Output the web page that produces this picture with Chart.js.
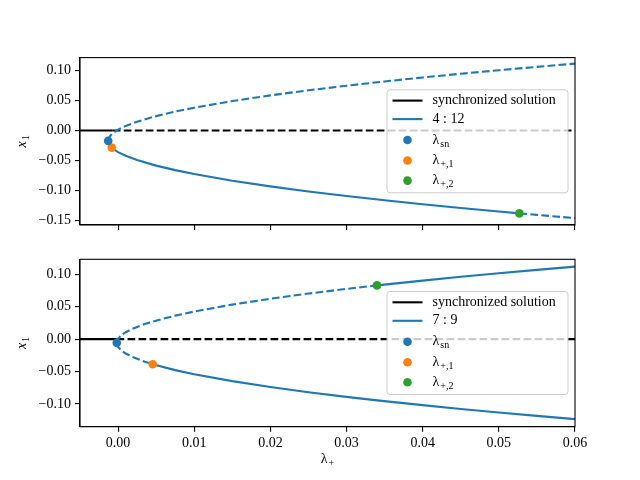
<!DOCTYPE html>
<html><head><meta charset="utf-8">
<script src="https://cdn.jsdelivr.net/npm/chart.js@4.4.0/dist/chart.umd.min.js"></script>
<style>
html,body{margin:0;padding:0;background:#fff;}
#wrap{position:relative;width:640px;height:480px;background:#fff;}
canvas{position:absolute;left:0;}
</style></head><body>
<div id="wrap">
<canvas id="c1" width="640" height="240" style="top:0"></canvas>
<canvas id="c2" width="640" height="240" style="top:240px"></canvas>
</div>
<script>
// ---- tick labels ----
const xTicks = [0, 0.01, 0.02, 0.03, 0.04, 0.05, 0.06];
const yTicksTop = [-0.15, -0.10, -0.05, 0, 0.05, 0.10];
const yTicksBottom = [-0.10, -0.05, 0, 0.05, 0.10];

// ---- top panel (4 : 12) ----
const topLambda = [-0.0013, -0.0011, -0.00083, -0.0005, 0, 0.001, 0.0025, 0.005, 0.0075, 0.01, 0.015, 0.02, 0.025, 0.03, 0.035, 0.04, 0.045, 0.05, 0.0527, 0.055, 0.06];
const topUpper  = [-0.0173, -0.0100, -0.0061, -0.0027, 0.0014, 0.0075, 0.0146, 0.0238, 0.0313, 0.0378, 0.0488, 0.0583, 0.0667, 0.0743, 0.0814, 0.0880, 0.0942, 0.1000, 0.1031, 0.1056, 0.1110];
const topLower  = [-0.0173, -0.0246, -0.0285, -0.0320, -0.0360, -0.0421, -0.0492, -0.0584, -0.0659, -0.0724, -0.0834, -0.0929, -0.1013, -0.1089, -0.1160, -0.1226, -0.1288, -0.1346, -0.1377, -0.1402, -0.1456];
const topSyncLambda = [-0.005, -0.0007, 0.06];
const topSyncValue = [0, 0, 0];
const topSn = [-0.0013, -0.0173];
const topPlus1 = [-0.00083, -0.0285];
const topPlus2 = [0.0527, -0.1377];

// ---- bottom panel (7 : 9) ----
const botLambda = [-0.00017, 0, 0.0005, 0.001, 0.002, 0.0035, 0.00455, 0.0075, 0.01, 0.015, 0.02, 0.025, 0.03, 0.034, 0.04, 0.045, 0.05, 0.055, 0.06];
const botUpper  = [-0.0058, 0.0005, 0.0066, 0.0106, 0.0165, 0.0232, 0.0271, 0.0362, 0.0425, 0.0532, 0.0622, 0.0702, 0.0774, 0.0828, 0.0902, 0.0960, 0.1015, 0.1067, 0.1117];
const botLower  = [-0.0058, -0.0121, -0.0182, -0.0222, -0.0281, -0.0348, -0.0387, -0.0478, -0.0541, -0.0648, -0.0738, -0.0818, -0.0890, -0.0944, -0.1018, -0.1076, -0.1131, -0.1183, -0.1233];
const botSyncLambda = [-0.005, -0.0002, 0.06];
const botSyncValue = [0, 0, 0];
const botSn = [-0.00017, -0.0058];
const botPlus1 = [0.00455, -0.0387];
const botPlus2 = [0.034, 0.0828];

const BLUE = '#1f77b4', ORANGE = '#ff7f0e', GREEN = '#2ca02c';
const DASH = [7.7, 3.3];
const LW = 2.1;
const FONT = '"Liberation Serif", "Times New Roman", serif';

function pts(l, v) { return l.map((x, i) => ({x: x, y: v[i]})); }
function lineDs(l, v, color, dashFn, order) {
  return {data: pts(l, v), showLine: true, borderColor: color, backgroundColor: color,
    borderWidth: LW, pointRadius: 0, tension: 0, fill: false, order: order,
    segment: {borderDash: dashFn}};
}
function markDs(p, color) {
  return {data: [{x: p[0], y: p[1]}], showLine: false, pointRadius: 4.3,
    pointBackgroundColor: color, pointBorderWidth: 0, borderWidth: 0, order: 0};
}
function fmt(v) {
  const s = Math.abs(v).toFixed(2);
  return (v < -1e-9 ? '\u2212' : '') + s;
}
function drawSub(ctx, x, y, main, sub, align, italicMain) {
  const mainFont = (italicMain ? 'italic ' : '') + '14px ' + FONT;
  const subFont = '10px ' + FONT;
  ctx.font = mainFont;
  const wm = ctx.measureText(main).width;
  ctx.font = subFont;
  const ws = ctx.measureText(sub).width;
  let x0 = x;
  if (align === 'center') x0 = x - (wm + ws + 1) / 2;
  ctx.textAlign = 'left';
  ctx.textBaseline = 'middle';
  ctx.font = mainFont;
  ctx.fillText(main, x0, y);
  ctx.font = subFont;
  ctx.fillText(sub, x0 + wm + 1, y + 4);
}

function framePlugin(o) {
  return {
    id: 'frame',
    afterDatasetsDraw(chart) {
      const ctx = chart.ctx, ca = chart.chartArea;
      ctx.save();
      // full axes box
      ctx.strokeStyle = '#000';
      ctx.lineWidth = 1.1;
      ctx.strokeRect(ca.left, ca.top, ca.right - ca.left, ca.bottom - ca.top);
      // legend
      const w = 181, h = 103;
      const bx = ca.right - 7 - w;
      const by = (ca.top + ca.bottom) / 2 - h / 2;
      ctx.beginPath();
      if (ctx.roundRect) ctx.roundRect(bx, by, w, h, 3); else ctx.rect(bx, by, w, h);
      ctx.fillStyle = 'rgba(255,255,255,0.8)';
      ctx.fill();
      ctx.strokeStyle = '#cccccc';
      ctx.lineWidth = 1;
      ctx.stroke();
      const rows = [10.8, 29.3, 50.2, 70.7, 90.8];
      const hx0 = bx + 5.5, hx1 = bx + 35.5, hc = bx + 20.5, tx = bx + 45.5;
      ctx.lineWidth = LW;
      ctx.strokeStyle = '#000';
      ctx.beginPath(); ctx.moveTo(hx0, by + rows[0]); ctx.lineTo(hx1, by + rows[0]); ctx.stroke();
      ctx.strokeStyle = BLUE;
      ctx.beginPath(); ctx.moveTo(hx0, by + rows[1]); ctx.lineTo(hx1, by + rows[1]); ctx.stroke();
      [BLUE, ORANGE, GREEN].forEach((c, i) => {
        ctx.fillStyle = c;
        ctx.beginPath(); ctx.arc(hc, by + rows[2 + i], 4.3, 0, Math.PI * 2); ctx.fill();
      });
      ctx.fillStyle = '#000';
      ctx.font = '14px ' + FONT;
      ctx.textAlign = 'left';
      ctx.textBaseline = 'middle';
      ctx.fillText('synchronized solution', tx, by + rows[0]);
      ctx.fillText(o.ratio, tx, by + rows[1]);
      drawSub(ctx, tx, by + rows[2], '\u03bb', 'sn', 'left', false);
      drawSub(ctx, tx, by + rows[3], '\u03bb', '+,1', 'left', false);
      drawSub(ctx, tx, by + rows[4], '\u03bb', '+,2', 'left', false);
      ctx.restore();
    },
    afterDraw(chart) {
      const ctx = chart.ctx, ca = chart.chartArea;
      ctx.save();
      ctx.fillStyle = '#000';
      ctx.translate(22, (ca.top + ca.bottom) / 2);
      ctx.rotate(-Math.PI / 2);
      drawSub(ctx, 0, 0, 'x', '1', 'center', true);
      ctx.restore();
      if (o.showX) {
        ctx.save();
        ctx.fillStyle = '#000';
        drawSub(ctx, (ca.left + ca.right) / 2, 219, '\u03bb', '+', 'center', false);
        ctx.restore();
      }
    }
  };
}

function makeChart(id, o) {
  return new Chart(document.getElementById(id), {
    type: 'scatter',
    data: {datasets: o.datasets},
    options: {
      responsive: false, animation: false, events: [],
      layout: {padding: {left: 0, right: 65, top: o.padTop, bottom: 0}},
      plugins: {legend: {display: false}, tooltip: {enabled: false}},
      scales: {
        x: {
          type: 'linear', min: -0.005, max: 0.06,
          afterBuildTicks: s => { s.ticks = xTicks.map(v => ({value: v})); },
          afterFit: s => { s.height = o.xHeight; },
          grid: {drawOnChartArea: false, drawTicks: true, tickLength: 5, color: '#000', lineWidth: 1.1},
          border: {display: true, color: '#000', width: 1.1},
          ticks: {display: o.showX, color: '#000', padding: 3, maxRotation: 0, autoSkip: false,
            font: {family: FONT, size: 14}, callback: v => fmt(v)}
        },
        y: {
          type: 'linear', min: o.yMin, max: o.yMax,
          afterBuildTicks: s => { s.ticks = o.yTicks.map(v => ({value: v})); },
          afterFit: s => { s.width = 80; },
          grid: {drawOnChartArea: false, drawTicks: true, tickLength: 5, color: '#000', lineWidth: 1.1},
          border: {display: true, color: '#000', width: 1.1},
          ticks: {color: '#000', padding: 4, autoSkip: false,
            font: {family: FONT, size: 14}, callback: v => fmt(v)}
        }
      }
    },
    plugins: [framePlugin(o)]
  });
}

makeChart('c1', {
  ratio: '4 : 12', padTop: 57.6, xHeight: 15, showX: false,
  yMin: -0.157, yMax: 0.121, yTicks: yTicksTop,
  datasets: [
    markDs(topSn, BLUE), markDs(topPlus1, ORANGE), markDs(topPlus2, GREEN),
    lineDs(topLambda, topUpper, BLUE, () => DASH, 1),
    lineDs(topLambda, topLower, BLUE, c => (c.p0.parsed.x >= topPlus2[0] - 1e-9 ? DASH : undefined), 1),
    lineDs(topSyncLambda, topSyncValue, '#000', c => (c.p0.parsed.x >= topSyncLambda[1] - 1e-9 ? DASH : undefined), 2)
  ]
});

makeChart('c2', {
  ratio: '7 : 9', padTop: 19.3, xHeight: 53.3, showX: true,
  yMin: -0.135, yMax: 0.123, yTicks: yTicksBottom,
  datasets: [
    markDs(botSn, BLUE), markDs(botPlus1, ORANGE), markDs(botPlus2, GREEN),
    lineDs(botLambda, botUpper, BLUE, c => (c.p1.parsed.x <= botPlus2[0] + 1e-9 ? DASH : undefined), 1),
    lineDs(botLambda, botLower, BLUE, c => (c.p1.parsed.x <= botPlus1[0] + 1e-9 ? DASH : undefined), 1),
    lineDs(botSyncLambda, botSyncValue, '#000', c => (c.p0.parsed.x >= botSyncLambda[1] - 1e-9 ? DASH : undefined), 2)
  ]
});
</script>
</body></html>
